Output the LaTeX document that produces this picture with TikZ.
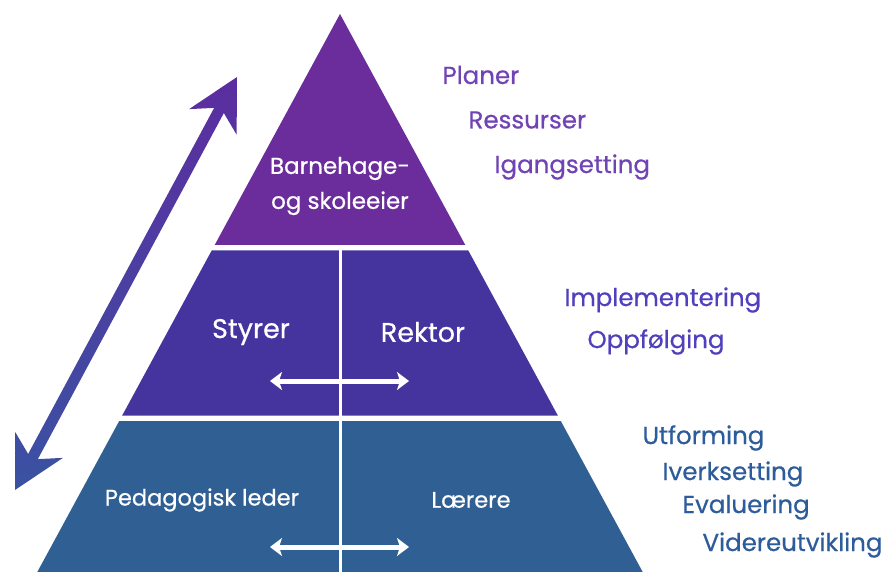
\documentclass[tikz,border=0pt]{standalone}
\usepackage{fontspec}
\setmainfont{Poppins}[FakeBold=0.6]
\usetikzlibrary{arrows.meta,calc}
\definecolor{eierpurple}{RGB}{106,45,155}
\definecolor{ledindigo}{RGB}{69,51,158}
\definecolor{teamblue}{RGB}{47,95,147}
\definecolor{eiertext}{RGB}{112,68,180}
\definecolor{ledtext}{RGB}{80,64,190}
\definecolor{teamtext}{RGB}{45,92,155}
\definecolor{pilTop}{RGB}{92,45,160}
\definecolor{pilBot}{RGB}{58,82,162}

\begin{document}
\begin{tikzpicture}[x=1pt,y=-1pt,
  inner/.style={text=white,font=\fontsize{23}{35}\selectfont,align=center},
  side/.style={anchor=west,font=\fontsize{24.5}{26}\selectfont},
  swap/.style={draw=white,line width=5pt,{Stealth[length=12pt,width=18pt,inset=3pt]}-{Stealth[length=12pt,width=18pt,inset=3pt]}}]
\useasboundingbox (0,0) rectangle (884,572);
% the three bands
\fill[eierpurple] (340,14) -- (465.3,245) -- (214.7,245) -- cycle;
\fill[ledindigo] (211.7,250.5) -- (468.3,250.5) -- (557.8,415.5) -- (122.2,415.5) -- cycle;
\fill[teamblue] (119.2,421) -- (560.8,421) -- (642.7,572) -- (37.3,572) -- cycle;
\draw[white,line width=3pt] (340,247) -- (340,572);

% up and down arrow
\coordinate (lo) at (15,490);
\coordinate (hi) at (237,77);
\shade[top color=pilTop,bottom color=pilBot] (hi)
  -- ($(hi)!51pt!(lo)!27pt!90:(lo)$) -- ($(hi)!38pt!(lo)!5.5pt!90:(lo)$)
  -- ($(lo)!38pt!(hi)!5.5pt!-90:(hi)$) -- ($(lo)!51pt!(hi)!27pt!-90:(hi)$)
  -- (lo)
  -- ($(lo)!51pt!(hi)!27pt!90:(hi)$) -- ($(lo)!38pt!(hi)!5.5pt!90:(hi)$)
  -- ($(hi)!38pt!(lo)!5.5pt!-90:(lo)$) -- ($(hi)!51pt!(lo)!27pt!-90:(lo)$)
  -- cycle;

% labels in the pyramid
\node[inner] (eier) at (340,186) {Barnehage-\\og skoleeier};
\node[inner,font=\fontsize{27}{30}\selectfont] (styrer) at (251,332) {Styrer};
\node[inner,font=\fontsize{27}{30}\selectfont] (rektor) at (423,332) {Rektor};
\node[inner,font=\fontsize{22.5}{26}\selectfont] (pedleder) at (202,500) {Pedagogisk leder};
\node[inner,font=\fontsize{22.5}{26}\selectfont] (laerer) at (471,500) {Lærere};

% white arrows
\coordinate (midL) at (270,381);
\coordinate (midR) at (409,381);
\draw[swap] (midL) -- (midR);
\coordinate (botL) at (270,547);
\coordinate (botR) at (409,547);
\draw[swap] (botL) -- (botR);

% tasks on the right
\node[side,text=eiertext] (planer) at (439,75) {Planer};
\node[side,text=eiertext] (ressurser) at (465,120) {Ressurser};
\node[side,text=eiertext] (igang) at (491,167) {Igangsetting};
\node[side,text=ledtext] (impl) at (561,300) {Implementering};
\node[side,text=ledtext] (oppf) at (584,342) {Oppfølging};
\node[side,text=teamtext] (utf) at (639,438) {Utforming};
\node[side,text=teamtext] (iverk) at (659,474) {Iverksetting};
\node[side,text=teamtext] (eval) at (679,507) {Evaluering};
\node[side,text=teamtext] (videre) at (699,545) {Videreutvikling};
\end{tikzpicture}
\end{document}
